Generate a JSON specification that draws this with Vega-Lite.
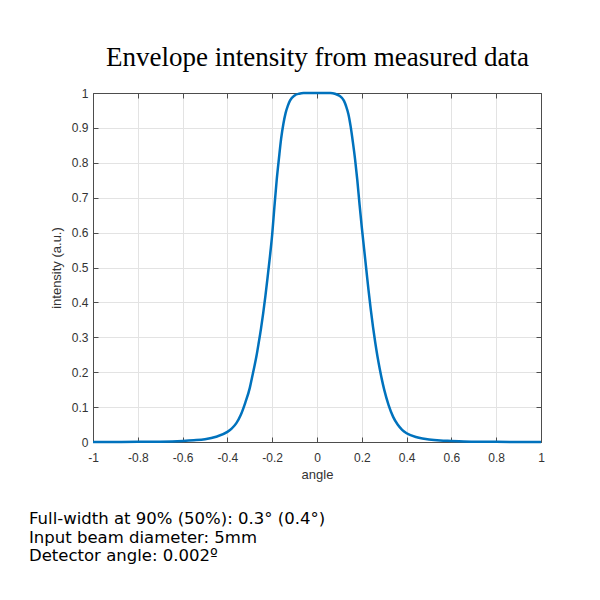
{
  "$schema": "https://vega.github.io/schema/vega-lite/v6.json",
  "autosize": {"type": "none"},
  "width": 448,
  "height": 349,
  "padding": {"left": 93, "top": 93, "right": 59, "bottom": 158},
  "background": "white",
  "title": {
    "text": ["Full-width at 90% (50%): 0.3° (0.4°)", "Input beam diameter: 5mm", "Detector angle: 0.002º"],
    "orient": "bottom",
    "anchor": "start",
    "frame": "group",
    "dx": -64,
    "offset": 30,
    "font": "DejaVu Sans",
    "fontSize": 16.5,
    "fontWeight": "normal",
    "color": "#000000",
    "lineHeight": 18.5
  },
  "data": {
    "values": [
      {"angle": -1.0, "intensity": 0.0},
      {"angle": -0.9, "intensity": 0.0},
      {"angle": -0.8, "intensity": 0.0005},
      {"angle": -0.7, "intensity": 0.001},
      {"angle": -0.6, "intensity": 0.003},
      {"angle": -0.55, "intensity": 0.005},
      {"angle": -0.5, "intensity": 0.008},
      {"angle": -0.45, "intensity": 0.015},
      {"angle": -0.4, "intensity": 0.029},
      {"angle": -0.38, "intensity": 0.039},
      {"angle": -0.36, "intensity": 0.054},
      {"angle": -0.34, "intensity": 0.078},
      {"angle": -0.32, "intensity": 0.113},
      {"angle": -0.3, "intensity": 0.155},
      {"angle": -0.29, "intensity": 0.185},
      {"angle": -0.28, "intensity": 0.215},
      {"angle": -0.27, "intensity": 0.247},
      {"angle": -0.26, "intensity": 0.285},
      {"angle": -0.25, "intensity": 0.325},
      {"angle": -0.24, "intensity": 0.37},
      {"angle": -0.23, "intensity": 0.42},
      {"angle": -0.22, "intensity": 0.475},
      {"angle": -0.21, "intensity": 0.532},
      {"angle": -0.2, "intensity": 0.595},
      {"angle": -0.19, "intensity": 0.675},
      {"angle": -0.18, "intensity": 0.75},
      {"angle": -0.17, "intensity": 0.812},
      {"angle": -0.16, "intensity": 0.87},
      {"angle": -0.15, "intensity": 0.912},
      {"angle": -0.14, "intensity": 0.943},
      {"angle": -0.13, "intensity": 0.964},
      {"angle": -0.12, "intensity": 0.979},
      {"angle": -0.1, "intensity": 0.993},
      {"angle": -0.08, "intensity": 0.998},
      {"angle": -0.06, "intensity": 1.0},
      {"angle": -0.03, "intensity": 1.0},
      {"angle": 0.0, "intensity": 1.0},
      {"angle": 0.03, "intensity": 1.0},
      {"angle": 0.06, "intensity": 1.0},
      {"angle": 0.08, "intensity": 0.998},
      {"angle": 0.1, "intensity": 0.992},
      {"angle": 0.12, "intensity": 0.978},
      {"angle": 0.13, "intensity": 0.962},
      {"angle": 0.14, "intensity": 0.94},
      {"angle": 0.15, "intensity": 0.905},
      {"angle": 0.16, "intensity": 0.86},
      {"angle": 0.17, "intensity": 0.81},
      {"angle": 0.18, "intensity": 0.75},
      {"angle": 0.19, "intensity": 0.68},
      {"angle": 0.2, "intensity": 0.615},
      {"angle": 0.21, "intensity": 0.555},
      {"angle": 0.22, "intensity": 0.495},
      {"angle": 0.23, "intensity": 0.435},
      {"angle": 0.24, "intensity": 0.38},
      {"angle": 0.25, "intensity": 0.33},
      {"angle": 0.26, "intensity": 0.285},
      {"angle": 0.27, "intensity": 0.245},
      {"angle": 0.28, "intensity": 0.21},
      {"angle": 0.29, "intensity": 0.178},
      {"angle": 0.3, "intensity": 0.15},
      {"angle": 0.32, "intensity": 0.105},
      {"angle": 0.34, "intensity": 0.072},
      {"angle": 0.36, "intensity": 0.05},
      {"angle": 0.38, "intensity": 0.035},
      {"angle": 0.4, "intensity": 0.025},
      {"angle": 0.45, "intensity": 0.013},
      {"angle": 0.5, "intensity": 0.007},
      {"angle": 0.55, "intensity": 0.004},
      {"angle": 0.6, "intensity": 0.003},
      {"angle": 0.7, "intensity": 0.001},
      {"angle": 0.8, "intensity": 0.0005},
      {"angle": 0.9, "intensity": 0.0},
      {"angle": 1.0, "intensity": 0.0}
    ]
  },
  "config": {
    "view": {"stroke": null},
    "axis": {
      "domainColor": "#4d4d4d",
      "domainWidth": 1,
      "tickColor": "#4d4d4d",
      "tickSize": -5,
      "labelFont": "Liberation Sans",
      "labelFontSize": 12,
      "labelColor": "#333333",
      "labelExpr": "toString(datum.value)",
      "titleFont": "Liberation Sans",
      "titleFontSize": 13,
      "titleFontWeight": "normal",
      "titleColor": "#333333",
      "gridColor": "#e3e3e3",
      "gridWidth": 1
    }
  },
  "resolve": {"axis": {"x": "independent", "y": "independent"}},
  "layer": [
    {
      "mark": {"type": "line", "strokeOpacity": 0, "interpolate": "monotone"},
      "encoding": {
        "x": {
          "field": "angle", "type": "quantitative",
          "scale": {"domain": [-1, 1], "nice": false, "zero": false},
          "axis": {"orient": "bottom", "values": [-1, -0.8, -0.6, -0.4, -0.2, 0, 0.2, 0.4, 0.6, 0.8, 1], "grid": true, "labelPadding": 15, "title": "angle", "titlePadding": 5, "labelFlush": false, "labelOverlap": false}
        },
        "y": {
          "field": "intensity", "type": "quantitative",
          "scale": {"domain": [0, 1], "nice": false},
          "axis": {"orient": "left", "values": [0, 0.1, 0.2, 0.3, 0.4, 0.5, 0.6, 0.7, 0.8, 0.9, 1], "grid": true, "labelPadding": 10, "title": "intensity (a.u.)", "titlePadding": 8, "labelFlush": false, "labelOverlap": false}
        }
      }
    },
    {
      "mark": {"type": "line", "color": "#0072BD", "strokeWidth": 2.5, "interpolate": "monotone"},
      "encoding": {
        "x": {
          "field": "angle", "type": "quantitative",
          "axis": {"orient": "top", "values": [-1, -0.8, -0.6, -0.4, -0.2, 0, 0.2, 0.4, 0.6, 0.8, 1], "grid": false, "labels": false, "title": "Envelope intensity from measured data", "titleFont": "Liberation Serif", "titleFontSize": 27, "titleColor": "#000000", "titlePadding": 21}
        },
        "y": {
          "field": "intensity", "type": "quantitative",
          "axis": {"orient": "right", "values": [0, 0.1, 0.2, 0.3, 0.4, 0.5, 0.6, 0.7, 0.8, 0.9, 1], "grid": false, "labels": false, "title": null}
        }
      }
    }
  ]
}
